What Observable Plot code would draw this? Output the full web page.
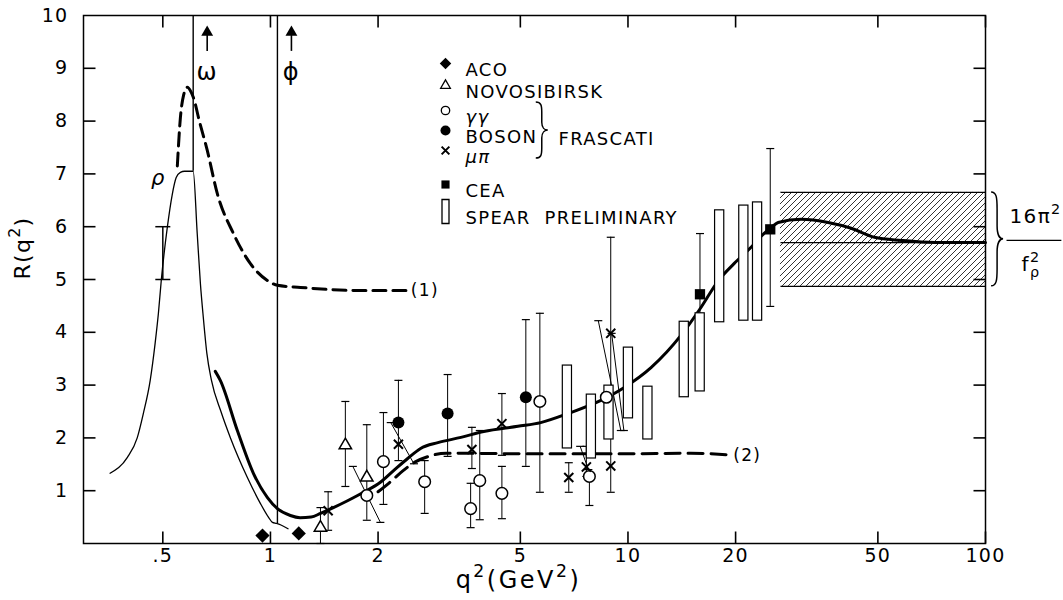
<!DOCTYPE html>
<html><head><meta charset="utf-8">
<script src="https://cdn.jsdelivr.net/npm/d3@7"></script>
<script src="https://cdn.jsdelivr.net/npm/@observablehq/plot@0.6"></script>
<style>
html,body{margin:0;padding:0;background:#fff;}
svg text{letter-spacing:1.3px;}
</style></head><body><div id="chart"></div>
<script>
// ---------------- data ----------------
const xDomain = [0.3, 100];
const yDomain = [0, 10];
const xTicks = [0.5, 1, 2, 5, 10, 20, 50, 100];
const xTickLabels = [".5", "1", "2", "5", "10", "20", "50", "100"];
const yTicks = [1, 2, 3, 4, 5, 6, 7, 8, 9, 10];
const yTickLabels = ["1", "2", "3", "4", "5", "6", "7", "8", "9", "10"];

// thin rho-resonance curve [q2, R]
const thinCurve = [[0.356,1.33],[0.398,1.63],[0.424,2.0],[0.441,2.46],[0.461,3.09],[0.476,3.8],[0.486,4.36],[0.495,4.98],[0.515,6.0],[0.531,6.6],[0.545,6.93],[0.560,7.03],[0.575,7.05],[0.608,7.05],[0.624,5.87],[0.637,4.92],[0.649,4.28],[0.664,3.6],[0.684,3.09],[0.727,2.5],[0.773,2.0],[0.862,1.25],[0.937,0.76],[0.987,0.5],[1.013,0.4],[1.04,0.38],[1.07,0.35],[1.12,0.28]];
// thick solid curve
const thickCurve = [[0.701,3.26],[0.724,3.09],[0.808,2.14],[0.896,1.33],[0.981,0.87],[1.046,0.66],[1.137,0.53],[1.21,0.49],[1.30,0.50],[1.38,0.57],[1.50,0.68],[1.643,0.81],[1.822,0.97],[2.03,1.16],[2.21,1.38],[2.42,1.61],[2.63,1.80],[2.94,1.91],[3.41,2.01],[3.95,2.12],[4.92,2.22],[5.70,2.29],[6.79,2.46],[8.40,2.71],[9.74,2.95],[11.6,3.33],[14.1,3.95],[16.0,4.47],[17.9,4.98],[19.8,5.30],[22.1,5.61],[24.0,5.87],[25.2,5.99],[26.3,6.08],[30.5,6.14],[36.3,6.08],[42.1,5.97],[48.9,5.80],[58.2,5.74],[72.0,5.70],[100,5.70]];
// dashed curve (1)
const dashed1 = [[0.549,7.15],[0.560,8.07],[0.572,8.5],[0.585,8.64],[0.600,8.55],[0.612,8.4],[0.630,8.05],[0.666,7.44],[0.710,6.63],[0.788,5.87],[0.879,5.30],[0.981,4.98],[1.046,4.89],[1.213,4.85],[1.787,4.79],[2.40,4.79]];
// dashed curve (2)
const dashed2 = [[2.0,0.98],[2.15,1.15],[2.35,1.38],[2.55,1.55],[2.8,1.66],[3.1,1.71],[5,1.70],[10,1.70],[15,1.71],[19.0,1.68]];

const aco = [{q:0.95,R:0.15},{q:1.20,R:0.19}];
const novosibirsk = [{q:1.38,R:0.30,lo:0,hi:0.68},{q:1.62,R:1.86,lo:1.08,hi:2.69},{q:1.86,R:1.25,lo:0.44,hi:2.25}];
const gammaGamma = [{q:1.86,R:0.91},{q:2.07,R:1.55,lo:0.74,hi:2.48},{q:2.70,R:1.17,lo:0.57,hi:1.57},{q:3.63,R:0.66,lo:0.30,hi:1.14},{q:3.85,R:1.19,lo:0.45,hi:2.14},{q:4.44,R:0.95,lo:0.47,hi:1.46},{q:5.67,R:2.69,lo:0.97,hi:4.36},{q:7.80,R:1.27,lo:0.72,hi:1.27},{q:8.70,R:2.77}];
const boson = [{q:2.28,R:2.29,lo:1.57,hi:3.09},{q:3.13,R:2.46,lo:1.65,hi:3.20},{q:5.18,R:2.77,lo:1.46,hi:4.24}];
const muPi = [{q:1.45,R:0.62,lo:0.25,hi:0.98},{q:2.28,R:1.88},{q:3.66,R:1.78,lo:1.42,hi:2.20},{q:4.44,R:2.27,lo:1.67,hi:2.84},{q:6.83,R:1.25,lo:0.97,hi:1.53},{q:7.65,R:1.45,lo:1.27,hi:1.84},{q:8.95,R:3.98,lo:0.97,hi:5.80},{q:8.95,R:1.47}];
const cea = [{q:15.9,R:4.72,lo:3.66,hi:5.87},{q:25.0,R:5.95,lo:4.49,hi:7.48}];
const spear = [{q:6.77,lo:1.80,hi:3.37},{q:7.90,lo:1.61,hi:2.82},{q:8.85,lo:1.97,hi:2.99},{q:10.03,lo:2.37,hi:3.71},{q:11.37,lo:1.97,hi:2.97},{q:14.37,lo:2.77,hi:4.20},{q:15.92,lo:2.88,hi:4.36},{q:18.05,lo:4.19,hi:6.31},{q:21.09,lo:4.22,hi:6.40},{q:23.04,lo:4.22,hi:6.46}];
const slantBars = [{q1:1.70,R1:1.46,q2:2.03,R2:0.40},{q1:2.17,R1:2.29,q2:2.52,R2:1.51},{q1:7.35,R1:1.84,q2:7.75,R2:1.40},{q1:8.26,R1:4.22,q2:9.55,R2:2.14},{q1:9.0,R1:3.98,q2:9.74,R2:2.14}];
const rhoBar = [{q:0.50,lo:5.0,hi:6.0}];
const resonances = [{name:"ω",q:0.608,lo:7.05},{name:"ϕ",q:1.046,lo:0.38}];
const asymptote = [{q1:26.7,q2:100,lo:4.87,hi:6.65,mid:5.70}];
const legendLabels = ["ACO","NOVOSIBIRSK","γγ","BOSON","μπ","CEA","SPEAR  PRELIMINARY"];
const groupLabel = "FRASCATI";
const curveLabels = [{t:"(1)",q:2.47,R:4.79},{t:"(2)",q:19.7,R:1.67}];

// ---------------- symbols / layout ----------------
const capSym = w => ({draw(c){c.moveTo(-w/2,0);c.lineTo(w/2,0);}});
const boxSym = (w,h) => ({draw(c){c.rect(-w/2,-h/2,w,h);}});

const pts = a => a.map(([q,R]) => ({q,R}));
const bars = [...novosibirsk,...gammaGamma,...boson,...muPi,...cea].filter(d => d.lo !== undefined);
const boxHalf = 1.03;

const K = {stroke:"black"};
const W = 1063, H = 600, mL = 83, mR = 78, mT = 15, mB = 57;
const fw = W - mL - mR, fh = H - mT - mB, tl = 12;
const tickY = tl / fh * (yDomain[1] - yDomain[0]);
const tickX = Math.pow(xDomain[1] / xDomain[0], tl / fw);
const legendRows = [48,70,95,115,135,169,196];
const legendSyms = [
  {symbol:"diamond2", fill:"black", r:5.2},
  {symbol:"triangle", fill:"white", r:3.6},
  {symbol:"circle", fill:"white", r:4.2},
  {symbol:"circle", fill:"black", r:5},
  {symbol:"times", fill:"none", r:3.6},
  {symbol:"square", fill:"black", r:4.6},
  {symbol:boxSym(7,24), fill:"white", r:4}
];
const yT = yTicks.slice(0, -1);
const tickRows = [
  ...xTicks.map(v => ({x1:v, x2:v, y1:yDomain[0], y2:yDomain[0]+tickY})),
  ...xTicks.map(v => ({x1:v, x2:v, y1:yDomain[1], y2:yDomain[1]-tickY})),
  ...yT.map(v => ({x1:xDomain[0], x2:xDomain[0]*tickX, y1:v, y2:v})),
  ...yT.map(v => ({x1:xDomain[1]/tickX, x2:xDomain[1], y1:v, y2:v}))
];

const plot = Plot.plot({
  width: W, height: H,
  marginLeft: mL, marginRight: mR, marginTop: mT, marginBottom: mB,
  x: {type: "log", domain: xDomain, axis: null},
  y: {domain: yDomain, axis: null},
  style: {fontFamily: "DejaVu Sans, sans-serif", fontSize: "17px", background: "white", color: "black"},
  marks: [
    Plot.rect(asymptote, {x1:"q1", x2:"q2", y1:"lo", y2:"hi", fill:"url(#hatch)"}),
    Plot.link(asymptote, {x1:"q1", x2:"q2", y1:"lo", y2:"lo", ...K, strokeWidth:1.3}),
    Plot.link(asymptote, {x1:"q1", x2:"q2", y1:"hi", y2:"hi", ...K, strokeWidth:1.3}),
    Plot.link(asymptote, {x1:"q1", x2:"q2", y1:"mid", y2:"mid", ...K, strokeWidth:1.3}),
    Plot.ruleX(resonances, {x:"q", y1:"lo", y2:yDomain[1], ...K, strokeWidth:1.4}),
    Plot.ruleX(resonances, {x:"q", y1:9.32, y2:9.62, dx:14, ...K, strokeWidth:1.6}),
    Plot.dot(resonances, {x:"q", y:9.68, dx:14, symbol:"triangle", r:4.4, fill:"black", stroke:"none"}),
    Plot.text(resonances, {x:"q", y:8.92, dx:14, text:"name", fontSize:24}),
    Plot.line(pts(thinCurve), {x:"q", y:"R", ...K, strokeWidth:1.3, curve:"monotone-x"}),
    Plot.line(pts(dashed1), {x:"q", y:"R", ...K, strokeWidth:3, strokeDasharray:"13,7", curve:"monotone-x"}),
    Plot.line(pts(dashed2), {x:"q", y:"R", ...K, strokeWidth:3, strokeDasharray:"15,8", curve:"monotone-x"}),
    Plot.line(pts(thickCurve), {x:"q", y:"R", ...K, strokeWidth:3, curve:"monotone-x"}),
    Plot.ruleX(rhoBar, {x:"q", y1:"lo", y2:"hi", ...K, strokeWidth:1.5}),
    Plot.dot(rhoBar, {x:"q", y:"lo", symbol:capSym(15), ...K, fill:"none", strokeWidth:1.5}),
    Plot.dot(rhoBar, {x:"q", y:"hi", symbol:capSym(15), ...K, fill:"none", strokeWidth:1.5}),
    Plot.ruleX(bars, {x:"q", y1:"lo", y2:"hi", ...K, strokeWidth:1}),
    Plot.dot(bars, {x:"q", y:"lo", symbol:capSym(8), ...K, fill:"none", strokeWidth:1.2}),
    Plot.dot(bars, {x:"q", y:"hi", symbol:capSym(8), ...K, fill:"none", strokeWidth:1.2}),
    Plot.link(slantBars, {x1:"q1", y1:"R1", x2:"q2", y2:"R2", ...K, strokeWidth:1}),
    Plot.dot(slantBars, {x:"q1", y:"R1", symbol:capSym(8), ...K, fill:"none", strokeWidth:1.2}),
    Plot.dot(slantBars, {x:"q2", y:"R2", symbol:capSym(8), ...K, fill:"none", strokeWidth:1.2}),
    Plot.rect(spear, {x1:d=>d.q/boxHalf, x2:d=>d.q*boxHalf, y1:"lo", y2:"hi", fill:"white", ...K, strokeWidth:1.2}),
    Plot.dot(aco, {x:"q", y:"R", symbol:"diamond2", r:6.4, fill:"black"}),
    Plot.dot(novosibirsk, {x:"q", y:"R", symbol:"triangle", r:4.6, fill:"white", ...K, strokeWidth:1.5}),
    Plot.dot(gammaGamma, {x:"q", y:"R", symbol:"circle", r:5.8, fill:"white", ...K, strokeWidth:1.5}),
    Plot.dot(boson, {x:"q", y:"R", symbol:"circle", r:6, fill:"black"}),
    Plot.dot(muPi, {x:"q", y:"R", symbol:"times", r:4.2, ...K, strokeWidth:2}),
    Plot.dot(cea, {x:"q", y:"R", symbol:"square", r:5.8, fill:"black"}),
    // frame and inward ticks
    Plot.frame({...K, strokeWidth:1.5}),
    Plot.link(tickRows, {x1:"x1", x2:"x2", y1:"y1", y2:"y2", stroke:"black", strokeWidth:1.6}),
    Plot.text(xTicks, {x:d=>d, frameAnchor:"bottom", dy:18, text:(d,i)=>xTickLabels[i], fontSize:19}),
    Plot.text(yTicks, {y:d=>d, frameAnchor:"left", dx:-15, textAnchor:"end", text:(d,i)=>yTickLabels[i], fontSize:19}),
    Plot.text(["q^2(GeV^2)"], {frameAnchor:"bottom", dx:-16, dy:44, fontSize:24}),
    Plot.text(["R(q^2)"], {frameAnchor:"left", dx:-61, rotate:-90, fontSize:22}),
    Plot.text(["ρ"], {x:0.486, y:6.91, fontSize:21, fontStyle:"italic"}),
    Plot.text(curveLabels, {x:"q", y:"R", text:"t", textAnchor:"start", fontSize:17}),
    Plot.link([0], {x1:114.5, x2:163, y1:5.74, y2:5.74, ...K, strokeWidth:1.3}),
    Plot.text(["16π^2"], {x:138, y:6.2, fontSize:20}),
    Plot.text(["f_ρ^2"], {x:134, y:5.28, fontSize:20}),
    ...legendSyms.map((s,i) => Plot.dot([0], {frameAnchor:"top-left", dx:362, dy:legendRows[i], symbol:s.symbol, r:s.r, fill:s.fill, stroke: s.fill==="black" ? "none" : "black", strokeWidth: s.symbol==="times"?2:1.3})),
    ...legendLabels.map((t,i) => Plot.text([t], {frameAnchor:"top-left", dx:382, dy:legendRows[i], textAnchor:"start", fontSize:18, fontStyle:(i===2||i===4)?"italic":"normal"})),
    Plot.text([groupLabel], {frameAnchor:"top-left", dx:475, dy:117, textAnchor:"start", fontSize:18})
  ]
});

document.getElementById("chart").appendChild(plot);

const NS = "http://www.w3.org/2000/svg";
const defs = d3.select(plot).insert("defs", ":first-child");
const pat = defs.append("pattern").attr("id","hatch").attr("patternUnits","userSpaceOnUse").attr("width",6).attr("height",6);
pat.append("path").attr("d","M-1.5,1.5 l3,-3 M0,6 l6,-6 M4.5,7.5 l3,-3").attr("stroke","black").attr("stroke-width",0.8);

function richText(el){
  const s = el.textContent;
  if (!/[\^_]/.test(s)) return;
  const fs = parseFloat(getComputedStyle(el).fontSize) || 17;
  const parts = []; let buf = "", i = 0;
  while (i < s.length) {
    const ch = s[i];
    if (ch === "^" || ch === "_") {
      if (buf) { parts.push({t:buf,k:0}); buf = ""; }
      parts.push({t:s[i+1], k: ch === "^" ? 1 : -1}); i += 2;
    } else { buf += ch; i++; }
  }
  if (buf) parts.push({t:buf,k:0});
  el.textContent = "";
  if (s.includes("GeV")) el.style.letterSpacing = "2.5px";
  let cur = 0, prev = null, prevK = 0;
  for (const p of parts) {
    const target = p.k === 1 ? -0.45*fs : p.k === -1 ? 0.3*fs : 0;
    const ts = document.createElementNS(NS, "tspan");
    ts.setAttribute("dy", target - cur); cur = target;
    if (p.k) ts.setAttribute("font-size", fs*0.72);
    if (p.k === 1 && prevK === -1 && prev) ts.setAttribute("dx", -prev.getComputedTextLength());
    ts.textContent = p.t; el.appendChild(ts);
    prev = ts; prevK = p.k;
  }
}
plot.querySelectorAll("text").forEach(richText);

const sx = plot.scale("x"), sy = plot.scale("y");
function brace(q, r0, r1, w){
  const x = sx.apply(q), y0 = sy.apply(r0), y1 = sy.apply(r1);
  const h = y1 - y0, m = (y0 + y1)/2, xm = x + w*0.5;
  const d = `M${x},${y0} C${x+w*0.45},${y0} ${xm},${y0+0.06*h} ${xm},${y0+0.18*h} L${xm},${m-0.14*h} C${xm},${m-0.04*h} ${x+w*0.75},${m} ${x+w},${m} C${x+w*0.75},${m} ${xm},${m+0.04*h} ${xm},${m+0.14*h} L${xm},${y1-0.18*h} C${xm},${y1-0.06*h} ${x+w*0.45},${y1} ${x},${y1}`;
  d3.select(plot).append("path").attr("d", d).attr("fill","none").attr("stroke","black").attr("stroke-width",1.5);
}
brace(5.54, 8.35, 7.29, 12);
brace(104, 6.65, 4.87, 12);
</script></body></html>
